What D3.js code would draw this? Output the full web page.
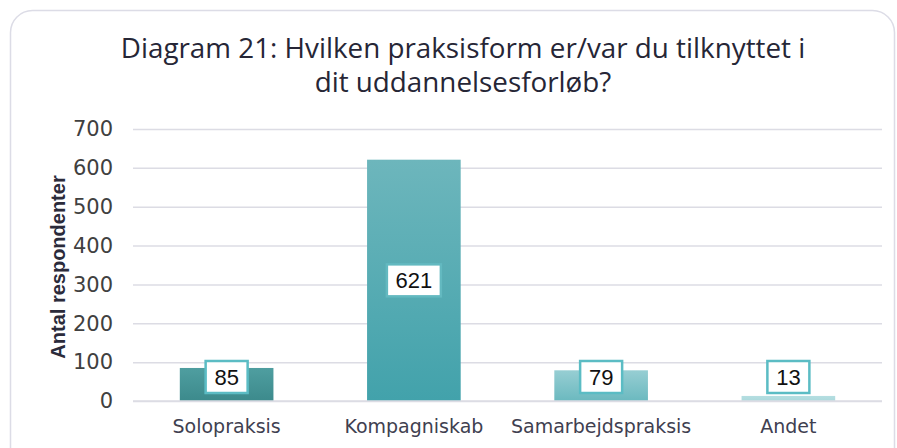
<!DOCTYPE html>
<html>
<head>
<meta charset="utf-8">
<script src="https://cdn.jsdelivr.net/npm/d3@7"></script>
<style>
  body { margin: 0; background: #fff; }
  svg { display: block; }
</style>
</head>
<body>
<svg id="chart" width="897" height="448"></svg>
<script>
// données du diagramme
var categories = ["Solopraksis", "Kompagniskab", "Samarbejdspraksis", "Andet"];
var values = [85, 621, 79, 13];
var yTicks = [0, 100, 200, 300, 400, 500, 600, 700];
var titleLines = ["Diagram 21: Hvilken praksisform er/var du tilknyttet i", "dit uddannelsesforløb?"];
var yLabel = "Antal respondenter";

// couleurs (haut / bas du dégradé) pour chaque barre
var colorsTop = ["#4f9ea0", "#6db6bc", "#97ced3", "#b5dee1"];
var colorsBottom = ["#3c8a8c", "#42a2ab", "#6bb9bf", "#acd9dc"];

var svg = d3.select("#chart");
var margin = {top: 129, right: 15, bottom: 47, left: 133},
    width = 897 - margin.right,
    height = 448 - margin.bottom;

// cadre arrondi
svg.append("rect")
  .attr("x", 10.5).attr("y", 10.5)
  .attr("width", 884).attr("height", 460)
  .attr("rx", 22)
  .attr("fill", "none")
  .attr("stroke", "#dcdce6")
  .attr("stroke-width", 1.5);

// dégradés
var defs = svg.append("defs");
categories.forEach(function(c, i){
  var g = defs.append("linearGradient")
    .attr("id", "grad" + i)
    .attr("x1", 0).attr("y1", 0).attr("x2", 0).attr("y2", 1);
  g.append("stop").attr("offset", "0%").attr("stop-color", colorsTop[i]);
  g.append("stop").attr("offset", "100%").attr("stop-color", colorsBottom[i]);
});

var xScale = d3.scaleBand().domain(categories).range([margin.left, width])
  .paddingInner(0.5).paddingOuter(0.25);
var yScale = d3.scaleLinear().domain([0, 700]).range([height, margin.top]);

// titre
svg.append("text")
  .attr("x", 463).attr("y", 58)
  .attr("text-anchor", "middle")
  .style("font-family", "'Open Sans', sans-serif")
  .style("font-size", "27.8px")
  .style("font-weight", "500")
  .style("fill", "#262636")
  .selectAll("tspan")
  .data(titleLines)
  .enter().append("tspan")
  .attr("x", 463)
  .attr("dy", function(d, i){ return i ? 34 : 0; })
  .text(function(d){ return d; });

// grille + axe y
var yAxis = svg.append("g")
  .attr("class", "yAxis")
  .attr("transform", `translate(${margin.left}, 0)`)
  .call(d3.axisLeft(yScale).tickValues(yTicks).tickSize(-(width - margin.left)).tickPadding(20));
yAxis.select(".domain").remove();
yAxis.selectAll(".tick line").attr("stroke", "#dcdce4").attr("stroke-width", 1.5);
yAxis.selectAll(".tick text")
  .style("font-family", "'DejaVu Sans', sans-serif")
  .style("font-size", "21px")
  .style("fill", "#404040");

// labelle axe y
svg.append("text")
  .attr("transform", "rotate(-90)")
  .attr("x", -267)
  .attr("y", 65)
  .attr("text-anchor", "middle")
  .style("font-family", "'Liberation Sans', Arial, sans-serif")
  .style("font-size", "20px")
  .style("font-weight", "bold")
  .style("fill", "#2b2b3b")
  .text(yLabel);

// barres
svg.selectAll("rect.bar")
  .data(values)
  .enter().append("rect")
  .attr("class", "bar")
  .attr("x", function(d, i){ return xScale(categories[i]); })
  .attr("y", function(d){ return yScale(d); })
  .attr("width", xScale.bandwidth())
  .attr("height", function(d){ return yScale(0) - yScale(d); })
  .attr("fill", function(d, i){ return "url(#grad" + i + ")"; });

// axe x
var xAxis = svg.append("g")
  .attr("transform", `translate(0, ${height})`)
  .call(d3.axisBottom(xScale).tickSize(0).tickPadding(19));
xAxis.select(".domain").attr("stroke", "#dcdce4").attr("stroke-width", 1.5)
  .attr("d", `M${margin.left},0H${width}`);
xAxis.selectAll(".tick text")
  .style("font-family", "'DejaVu Sans', sans-serif")
  .style("font-size", "19px")
  .style("fill", "#404050");

// étiquettes de valeurs
var labels = svg.selectAll("g.lbl")
  .data(values)
  .enter().append("g")
  .attr("class", "lbl")
  .attr("transform", function(d, i){
    var cy = Math.min((yScale(d) + yScale(0)) / 2, 377);
    return `translate(${xScale(categories[i]) + xScale.bandwidth() / 2}, ${cy})`;
  });
labels.append("rect")
  .attr("x", function(d){ return d >= 100 ? -27 : -21; })
  .attr("y", -16)
  .attr("width", function(d){ return d >= 100 ? 54 : 42; })
  .attr("height", 32)
  .attr("fill", "#fff")
  .attr("stroke", function(d){ return d >= 100 ? "#63b9c0" : "#5bbcc4"; })
  .attr("stroke-width", 2.5);
labels.append("text")
  .attr("text-anchor", "middle")
  .attr("dy", "0.36em")
  .style("font-family", "'Liberation Sans', Arial, sans-serif")
  .style("font-size", "22px")
  .style("fill", "#111")
  .text(function(d){ return d; });
</script>
</body>
</html>
